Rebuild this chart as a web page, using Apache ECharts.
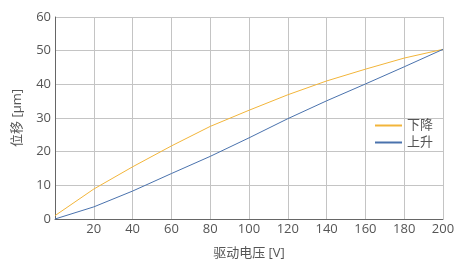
<!DOCTYPE html>
<html><head><meta charset="utf-8">
<script src="https://cdn.jsdelivr.net/npm/echarts@6/dist/echarts.min.js"></script>
<style>html,body{margin:0;padding:0;background:#fff}#c{width:469px;height:274px}</style>
</head><body><div id="c"></div>
<script>
const voltages = [0, 20, 40, 60, 80, 100, 120, 140, 160, 180, 200];
const descending = [1.0, 8.9, 15.5, 21.7, 27.5, 32.3, 36.9, 41.0, 44.5, 47.8, 50.4];
const ascending = [0.0, 3.6, 8.3, 13.5, 18.6, 24.1, 29.8, 35.1, 40.1, 45.2, 50.4];
const seriesNames = ['下降', '上升'];
const xName = '驱动电压 [V]';
const yName = '位移 [μm]';

const font = "'Open Sans', 'Noto Sans CJK SC', sans-serif";
const chart = echarts.init(document.getElementById('c'), null, {renderer: 'canvas'});
const pairs = arr => voltages.map((v, i) => [v, arr[i]]);
chart.setOption({
  animation: false,
  textStyle: {fontFamily: font},
  grid: {left: 55, right: 26, top: 17, bottom: 55},
  legend: {
    orient: 'vertical', right: 31, top: 114,
    itemWidth: 27, itemHeight: 2, itemGap: 4,
    icon: 'rect',
    textStyle: {color: '#555', fontSize: 13, fontFamily: font},
    data: seriesNames
  },
  xAxis: {
    type: 'value', min: 0, max: 200, interval: 20,
    name: xName, nameLocation: 'middle', nameGap: 28,
    nameTextStyle: {color: '#555', fontSize: 13, fontFamily: font},
    axisLine: {show: true, lineStyle: {color: '#666', width: 1}},
    axisTick: {show: false},
    axisLabel: {color: '#555', fontSize: 13, margin: 4, formatter: v => v === 0 ? '' : String(v)},
    splitLine: {show: true, lineStyle: {color: '#c4c4c4', width: 1}}
  },
  yAxis: {
    type: 'value', min: 0, max: 60, interval: 10,
    name: yName, nameLocation: 'middle', nameGap: 31, nameRotate: 90,
    nameTextStyle: {color: '#555', fontSize: 13, fontFamily: font},
    axisLine: {show: true, lineStyle: {color: '#666', width: 1}},
    axisTick: {show: false},
    axisLabel: {color: '#555', fontSize: 13, margin: 4},
    splitLine: {show: true, lineStyle: {color: '#c4c4c4', width: 1}}
  },
  series: [
    {name: seriesNames[0], type: 'line', data: pairs(descending), showSymbol: false, smooth: false,
     lineStyle: {color: '#f2b53a', width: 1}, itemStyle: {color: '#f2b53a'}},
    {name: seriesNames[1], type: 'line', data: pairs(ascending), showSymbol: false, smooth: false,
     lineStyle: {color: '#4a72ad', width: 1}, itemStyle: {color: '#4a72ad'}}
  ]
});
</script></body></html>
